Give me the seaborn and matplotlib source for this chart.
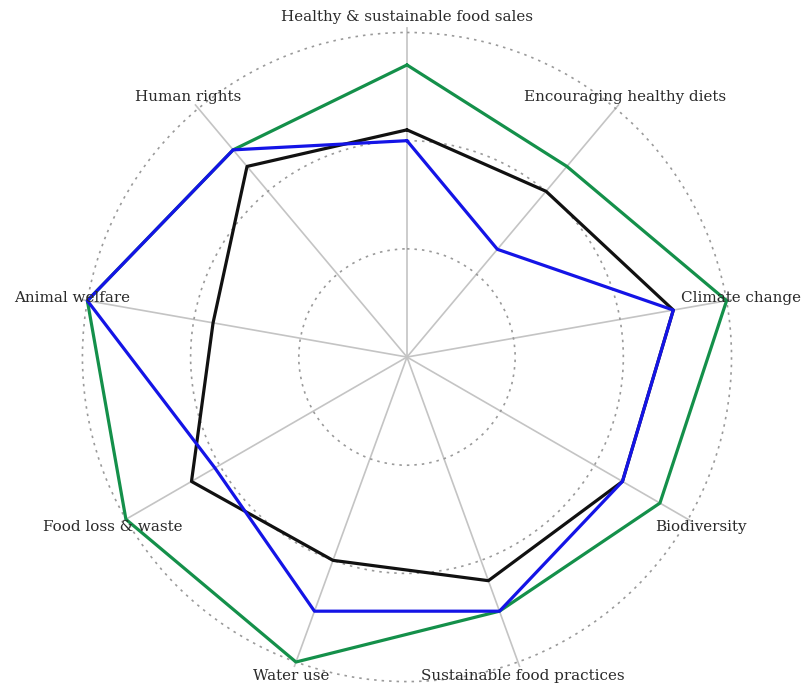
import numpy as np
import pandas as pd
import matplotlib
matplotlib.use("Agg")
import matplotlib.pyplot as plt
import seaborn as sns

# categories, clockwise from the top
categories = [
    "Healthy & sustainable food sales",
    "Encouraging healthy diets",
    "Climate change",
    "Biodiversity",
    "Sustainable food practices",
    "Water use",
    "Food loss & waste",
    "Animal welfare",
    "Human rights",
]

# scores (rings at 1, 2, 3)
green_scores = [2.70, 2.30, 3.00, 2.70, 2.50, 3.00, 3.00, 3.00, 2.50]
black_scores = [2.10, 2.00, 2.50, 2.30, 2.20, 2.00, 2.30, 1.82, 2.30]
blue_scores = [2.00, 1.30, 2.50, 2.30, 2.50, 2.50, 2.05, 3.00, 2.50]

series_names = ["Series 1", "Series 2", "Series 3"]
series_colors = ["#14904a", "#111111", "#1414e6"]

# long table, each polygon closed back on its first point
n = len(categories)
angles = np.linspace(0, 2 * np.pi, n, endpoint=False)
rows = []
for name, scores in zip(series_names, [green_scores, black_scores, blue_scores]):
    for a, v in zip(list(angles) + [angles[0]], scores + [scores[0]]):
        rows.append({"series": name, "angle": a, "score": v})
df = pd.DataFrame(rows)

sns.set_theme(style="white")
plt.rcParams["font.family"] = ["DejaVu Serif"]

fig = plt.figure(figsize=(8.07, 6.91), dpi=100)
ax = fig.add_axes([0.0954, 0.0058, 0.8178, 0.955], projection="polar")
ax.set_theta_zero_location("N")
ax.set_theta_direction(-1)

sns.lineplot(data=df, x="angle", y="score", hue="series", hue_order=series_names,
             palette=series_colors, sort=False, estimator=None, linewidth=2.3,
             legend=False, ax=ax, zorder=3)

ax.set_ylim(0, 3.05)
ax.set_rgrids([1, 2, 3], labels=[])
ax.set_thetagrids(np.degrees(angles), labels=[])
ax.yaxis.grid(True, color="#9a9a9a", linestyle=(0, (1.5, 3)), linewidth=1.2)
ax.xaxis.grid(True, color="#c4c4c4", linestyle="-", linewidth=1.2)
ax.spines["polar"].set_visible(False)
ax.set_xlabel("")
ax.set_ylabel("")

for a, label in zip(angles, categories):
    ax.text(a, 3.14, label, ha="center", va="center", fontsize=10.9,
            color="#2a2a2a", zorder=5)

fig.savefig("out.png", dpi=100)
